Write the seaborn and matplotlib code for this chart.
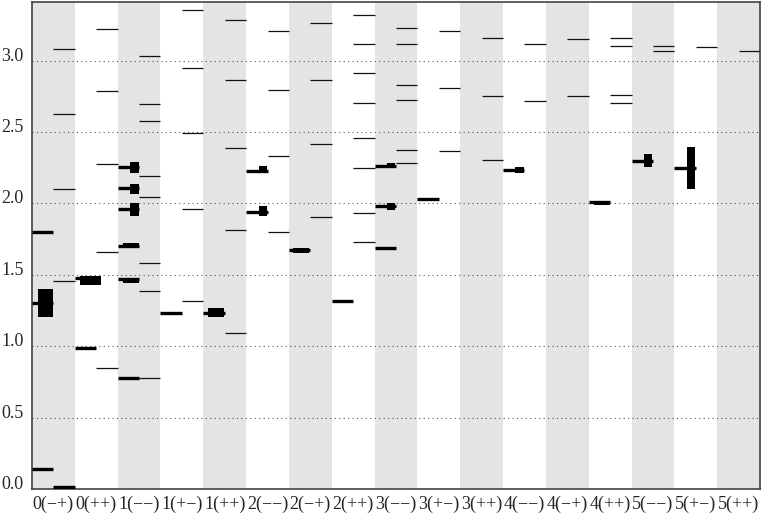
import numpy as np
import matplotlib
matplotlib.use("Agg")
import matplotlib.pyplot as plt
import seaborn as sns

# J(PC) columns
labels = ["0(−+)", "0(++)", "1(−−)", "1(+−)", "1(++)", "2(−−)", "2(−+)", "2(++)",
          "3(−−)", "3(+−)", "3(++)", "4(−−)", "4(−+)", "4(++)", "5(−−)", "5(+−)", "5(++)"]

# experimental states (thick line in left half of the column)
exp_col = [0, 0, 0, 1, 1, 2, 2, 2, 2, 2, 2, 3, 4, 5, 5, 6, 7, 8, 8, 8, 9, 11, 13, 14, 15]
exp_mass = [0.142, 1.303, 1.800, 0.986, 1.478, 0.774, 1.468, 1.704, 1.962, 2.109, 2.255,
            1.231, 1.231, 1.939, 2.226, 1.671, 1.319, 1.690, 1.981, 2.261, 2.032,
            2.231, 2.009, 2.300, 2.245]

# error boxes: column, low, high, left / right edge relative to column centre
box_col = [0, 1, 2, 2, 2, 2, 2, 4, 5, 5, 6, 8, 8, 11, 13, 14, 15]
box_lo = [1.203, 1.427, 1.440, 1.687, 1.913, 2.063, 2.214, 1.203, 1.913, 2.210,
          1.652, 1.951, 2.249, 2.210, 1.986, 2.252, 2.100]
box_hi = [1.399, 1.492, 1.478, 1.720, 2.000, 2.137, 2.289, 1.270, 1.979, 2.261,
          1.690, 2.000, 2.280, 2.252, 2.018, 2.343, 2.394]
box_left = [-0.37, -0.37, -0.38, -0.38, -0.20, -0.20, -0.20, -0.38, -0.21, -0.21,
            -0.40, -0.21, -0.21, -0.21, -0.38, -0.21, -0.21]
box_right = [0.0, 0.12, 0.0, 0.0, 0.0, 0.0, 0.0, -0.01, -0.01, -0.01,
             -0.02, -0.02, -0.02, -0.02, -0.01, -0.02, -0.02]

# model predictions (thin line in right half of the column)
theory = {
    0: [1.457, 2.100, 2.629, 3.079],
    1: [0.846, 1.662, 2.275, 2.785, 3.219],
    2: [0.774, 1.389, 1.583, 2.042, 2.193, 2.578, 2.694, 3.030],
    3: [1.319, 1.958, 2.490, 2.946, 3.352],
    4: [1.091, 1.811, 2.385, 2.864, 3.284],
    5: [1.797, 2.331, 2.794, 3.207],
    6: [1.902, 2.415, 2.864, 3.266],
    7: [1.731, 1.934, 2.247, 2.459, 2.706, 2.913, 3.119, 3.317],
    8: [2.284, 2.375, 2.722, 2.827, 3.119, 3.231],
    9: [2.366, 2.806, 3.205],
    10: [2.303, 2.752, 3.158],
    11: [2.715, 3.114],
    12: [2.752, 3.149],
    13: [2.706, 2.759, 3.100, 3.161],
    14: [3.065, 3.102],
    15: [3.095],
    16: [3.067],
}
# chiral-limit pion of the model (drawn thick)
chiral_col = [0]
chiral_mass = [0.013]

sns.set_style("white")
plt.rcParams["font.family"] = ["Liberation Serif", "DejaVu Serif"]

fig = plt.figure(figsize=(7.63, 5.15), dpi=100)
ax = fig.add_axes([32 / 763, 26 / 515, 728 / 763, 487 / 515])

n = len(labels)
for i in range(0, n, 2):
    ax.axvspan(i - 0.5, i + 0.5, color="#e4e4e4", lw=0, zorder=0)

th_x = np.concatenate([[c] * len(v) for c, v in theory.items()])
th_y = np.concatenate([v for v in theory.values()])
ax.hlines(th_y, th_x, th_x + 0.5, color="#111111", lw=0.9, zorder=3)
ax.hlines(chiral_mass, np.array(chiral_col), np.array(chiral_col) + 0.5,
          color="black", lw=2.4, zorder=3)

ec = np.array(exp_col)
ax.hlines(exp_mass, ec - 0.5, ec, color="black", lw=2.4, zorder=4)

bc = np.array(box_col)
bl = np.array(box_left)
br = np.array(box_right)
ax.bar(bc + bl, np.array(box_hi) - np.array(box_lo), width=br - bl,
       bottom=box_lo, align="edge", color="black", lw=0, zorder=4)

ax.set_xlim(-0.5, n - 0.5)
ax.set_ylim(0, 3.41)
ax.set_xticks(range(n))
ax.set_xticklabels(labels, fontsize=13)
yt = np.arange(0, 3.01, 0.5)
ax.set_yticks(yt)
ax.set_yticklabels([f"{v:.1f}" for v in yt], fontsize=13)
for lab in ax.get_yticklabels():
    lab.set_verticalalignment("baseline")

ax.tick_params(axis="x", direction="in", length=7.5, width=1, color="#333333", pad=5)
ax.tick_params(axis="y", length=0, pad=6)
ax.yaxis.grid(True, linestyle=(0, (1, 3)), color="#555555", lw=0.8, zorder=1)
ax.xaxis.grid(False)
ax.set_axisbelow(True)
for s in ax.spines.values():
    s.set_visible(True)
    s.set_color("#444444")
    s.set_linewidth(1.2)

fig.savefig("out.png", dpi=100)
